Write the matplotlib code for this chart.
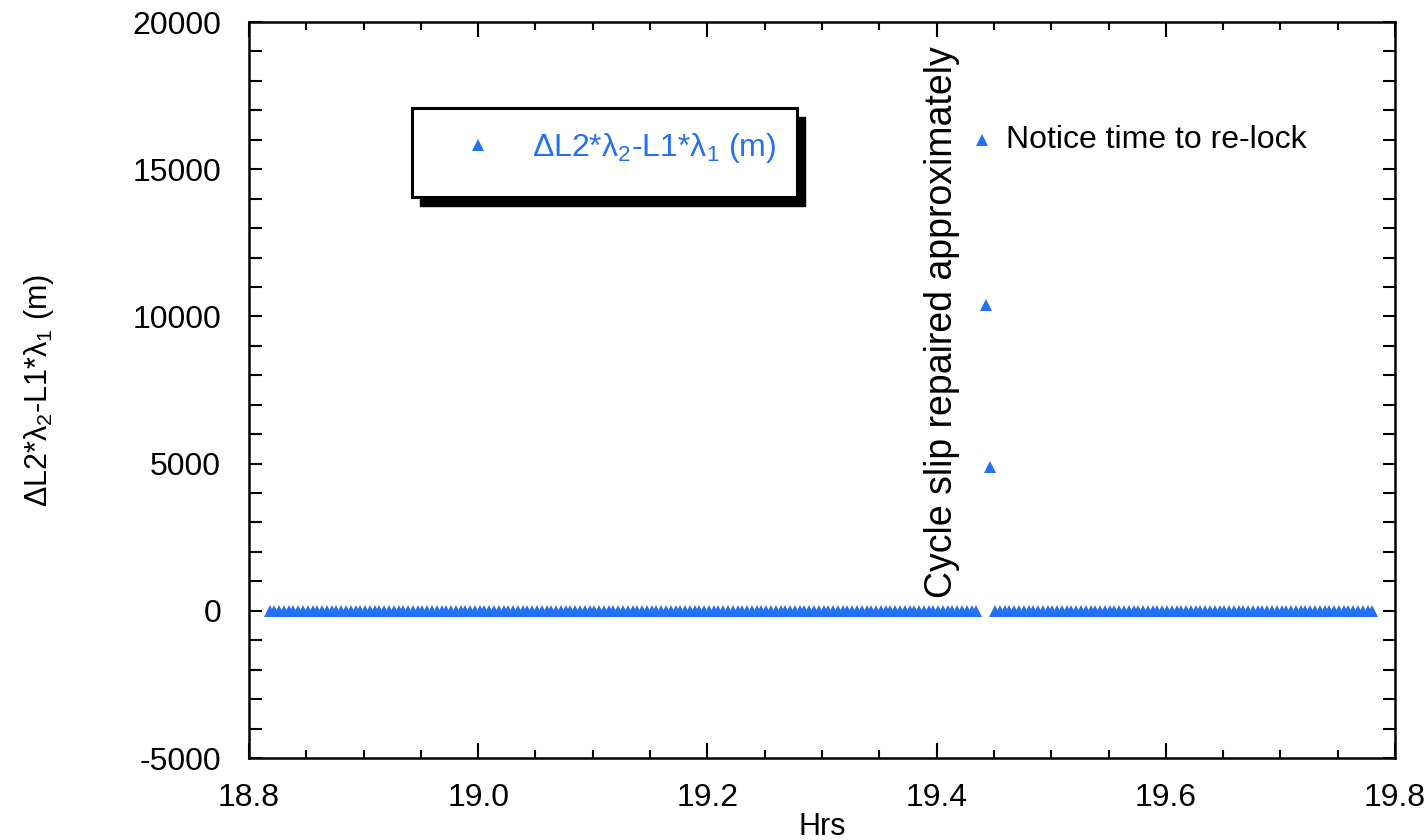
import numpy as np
import matplotlib
matplotlib.use("Agg")
import matplotlib.pyplot as plt
from matplotlib.patches import Rectangle
from matplotlib.ticker import MultipleLocator

plt.rcParams['font.family'] = ['Liberation Sans', 'DejaVu Sans']
plt.rcParams['mathtext.fontset'] = 'custom'
plt.rcParams['mathtext.rm'] = 'Liberation Sans'
plt.rcParams['mathtext.it'] = 'Liberation Sans'
plt.rcParams['mathtext.default'] = 'regular'

# ---- data ----
step_hrs = 15.0 / 3600.0                     # 15 s sampling interval
seg1_start, seg1_end = 18.818, 19.436        # locked, before slip
seg2_start, seg2_end = 19.451, 19.784        # locked, after re-lock
slip_hrs = [19.440, 19.443, 19.447]          # re-lock transient epochs
slip_vals = [16000, 10400, 4900]

seg1_t = np.arange(seg1_start, seg1_end + 1e-9, step_hrs)
seg2_t = np.arange(seg2_start, seg2_end + 1e-9, step_hrs)
hrs = np.concatenate([seg1_t, slip_hrs, seg2_t])
vals = np.concatenate([np.zeros(len(seg1_t)), slip_vals, np.zeros(len(seg2_t))])

series_label = 'ΔL2*λ$_2$-L1*λ$_1$ (m)'
ylabel = 'ΔL2*λ$_2$-L1*λ$_1$ (m)'
xlabel = 'Hrs'
note_rot = 'Cycle slip repaired approximately'
note_relock = 'Notice time to re-lock'
blue = '#2470F5'

fig = plt.figure(figsize=(14.26, 8.4), dpi=100)
ax = fig.add_axes([0.1746, 0.0976, 0.9783 - 0.1746, 0.9738 - 0.0976])

ax.plot(hrs, vals, linestyle='none', marker='^', markersize=9, color=blue,
        markeredgewidth=0, label=series_label, zorder=3)

ax.set_xlim(18.8, 19.8)
ax.set_ylim(-5000, 20000)
ax.xaxis.set_major_locator(MultipleLocator(0.2))
ax.xaxis.set_minor_locator(MultipleLocator(0.05))
ax.yaxis.set_major_locator(MultipleLocator(5000))
ax.yaxis.set_minor_locator(MultipleLocator(1000))
ax.xaxis.set_major_formatter(matplotlib.ticker.FormatStrFormatter('%.1f'))
ax.yaxis.set_major_formatter(matplotlib.ticker.FormatStrFormatter('%d'))

for s in ax.spines.values():
    s.set_linewidth(1.8)
ax.tick_params(which='both', direction='in', top=True, right=True, width=1.5,
               labelsize=23, pad=20)
ax.tick_params(axis='x', which='major', length=11, pad=18)
ax.tick_params(axis='x', which='minor', length=6)
ax.tick_params(axis='y', which='major', length=9)
ax.tick_params(axis='y', which='minor', length=9)

ax.set_xlabel(xlabel, fontsize=22)
ax.xaxis.set_label_coords(0.5, -0.0735)
ax.set_ylabel(ylabel, fontsize=22)
ax.yaxis.set_label_coords(-0.168, 0.5)

# annotations
ax.text(19.4045, 9800, note_rot, rotation=90, ha='center', va='center', fontsize=27)
ax.annotate(note_relock, xy=(slip_hrs[0], slip_vals[0]), xytext=(17, 0),
            textcoords='offset points', ha='left', va='center', fontsize=23)

# legend with heavy drop shadow
fx0, fx1, fy0, fy1 = 0.1422, 0.4782, 0.7622, 0.8832
ax.add_patch(Rectangle((fx0 + 0.007, fy0 - 0.012), fx1 - fx0, fy1 - fy0,
                       transform=ax.transAxes, facecolor='black', edgecolor='black',
                       zorder=4))
ax.add_patch(Rectangle((fx0, fy0), fx1 - fx0, fy1 - fy0, transform=ax.transAxes,
                       facecolor='white', edgecolor='black', linewidth=2.2, zorder=5))
leg = ax.legend(loc='center left', bbox_to_anchor=(0.186, 0.829), frameon=False,
                fontsize=23, labelcolor=blue, handlelength=1.0, handletextpad=1.2,
                borderpad=0, borderaxespad=0)
leg.set_zorder(6)

fig.savefig('out.png', dpi=100)
